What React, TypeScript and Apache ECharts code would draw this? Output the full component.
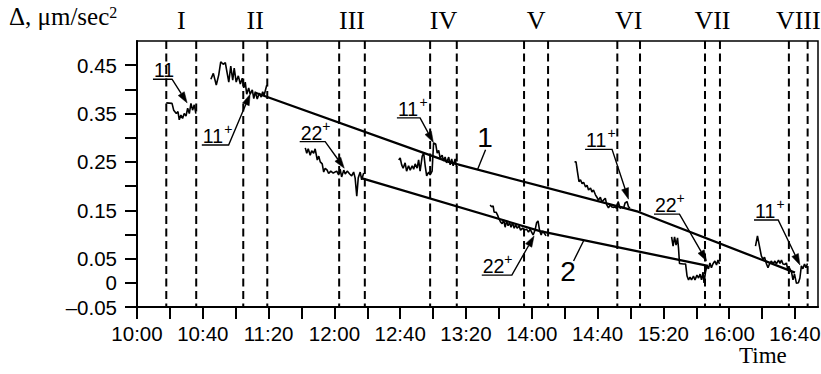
import React, { useEffect, useRef } from "react";
import * as echarts from "echarts";

const SANS = '"Liberation Sans", Arial, Helvetica, sans-serif';
const SERIF = '"Liberation Serif", "Times New Roman", Times, serif';

// time axis: minutes after 10:00
const X_MIN = 0;
const X_MAX = 414;
const Y_MIN = -0.05;
const Y_MAX = 0.5;

const xTickValues = [0, 20, 40, 60, 80, 100, 120, 140, 160, 180, 200, 220, 240, 260, 280, 300, 320, 340, 360, 380, 400];
const xLabelValues = [0, 40, 80, 120, 160, 200, 240, 280, 320, 360, 400];
const yTickValues = [-0.05, 0, 0.05, 0.1, 0.15, 0.2, 0.25, 0.3, 0.35, 0.4, 0.45];
const yLabelValues = [-0.05, 0, 0.05, 0.15, 0.25, 0.35, 0.45];

// measurement intervals (minutes after 10:00)
const intervalNames = ["I", "II", "III", "IV", "V", "VI", "VII", "VIII"];
const intervalStart = [17.8, 64.6, 122.9, 178.2, 235.3, 292.0, 345.3, 396.3];
const intervalEnd = [36.0, 79.2, 138.5, 194.4, 249.9, 305.8, 354.4, 407.7];

// measured series within each interval [minutes, value]
const seg1 = [[17.8, 0.372], [21.3, 0.371], [22.3, 0.357], [23.9, 0.35], [24.9, 0.354], [25.7, 0.337], [26.7, 0.347], [27.7, 0.34], [28.7, 0.35], [29.8, 0.345], [30.8, 0.361], [31.8, 0.35], [32.8, 0.371], [33.8, 0.357], [34.8, 0.368], [35.8, 0.35]];
const seg2 = [[44.9, 0.421], [46.4, 0.433], [48.2, 0.409], [49.7, 0.43], [50.9, 0.457], [52.4, 0.452], [53.7, 0.455], [54.9, 0.432], [55.8, 0.415], [57.0, 0.448], [58.2, 0.419], [59.1, 0.444], [60.3, 0.415], [61.6, 0.428], [62.8, 0.411], [64.0, 0.423], [64.9, 0.403], [65.8, 0.415], [66.7, 0.39], [67.9, 0.403], [68.8, 0.39], [70.1, 0.399], [71.0, 0.381], [71.9, 0.395], [73.1, 0.38], [74.3, 0.392], [75.5, 0.384], [76.4, 0.395], [77.3, 0.388], [78.9, 0.409]];
const seg3 = [[102.3, 0.279], [103.2, 0.268], [104.1, 0.277], [105.3, 0.264], [106.2, 0.273], [107.4, 0.268], [108.3, 0.277], [109.6, 0.254], [110.5, 0.262], [111.4, 0.25], [112.6, 0.246], [113.5, 0.229], [114.4, 0.237], [115.6, 0.233], [116.5, 0.226], [117.8, 0.231], [119.3, 0.227], [121.4, 0.231], [122.6, 0.223], [123.5, 0.235], [124.4, 0.219], [125.7, 0.233], [126.6, 0.225], [127.8, 0.231], [129.3, 0.225], [130.5, 0.221], [131.7, 0.229], [132.6, 0.217], [133.6, 0.179], [134.5, 0.217], [135.7, 0.229], [136.6, 0.213], [137.8, 0.227]];
const seg4 = [[159.1, 0.254], [160.0, 0.258], [160.9, 0.244], [161.8, 0.237], [163.0, 0.248], [163.9, 0.231], [165.1, 0.242], [166.1, 0.233], [167.3, 0.242], [168.2, 0.235], [169.1, 0.246], [170.3, 0.237], [171.2, 0.254], [172.1, 0.231], [173.4, 0.262], [174.3, 0.268], [175.2, 0.242], [176.1, 0.221], [177.3, 0.229], [178.2, 0.223], [179.4, 0.231], [180.3, 0.289], [181.6, 0.287], [182.5, 0.268], [183.4, 0.274], [184.3, 0.258], [185.5, 0.264], [186.4, 0.252], [187.3, 0.26], [188.2, 0.248], [189.5, 0.26], [190.4, 0.244], [191.3, 0.256], [192.2, 0.242], [193.4, 0.256], [194.3, 0.239]];
const seg5 = [[214.7, 0.161], [215.6, 0.157], [216.5, 0.159], [217.1, 0.146], [218.3, 0.146], [219.2, 0.14], [220.1, 0.132], [221.0, 0.126], [222.0, 0.122], [222.9, 0.13], [223.8, 0.115], [224.7, 0.128], [225.6, 0.118], [226.5, 0.124], [227.4, 0.115], [228.3, 0.124], [229.3, 0.113], [230.2, 0.12], [231.1, 0.113], [232.3, 0.117], [233.2, 0.109], [234.4, 0.113], [235.6, 0.109], [236.8, 0.111], [238.0, 0.105], [239.0, 0.111], [239.9, 0.105], [240.8, 0.099], [242.0, 0.109], [242.9, 0.124], [243.8, 0.128], [244.7, 0.109], [245.7, 0.099], [246.6, 0.107], [247.5, 0.103], [248.7, 0.097]];
const seg6 = [[266.0, 0.25], [266.9, 0.25], [267.8, 0.229], [268.7, 0.209], [269.6, 0.213], [270.6, 0.205], [271.5, 0.208], [272.7, 0.198], [273.6, 0.202], [274.5, 0.192], [275.7, 0.196], [276.6, 0.188], [277.5, 0.192], [278.7, 0.182], [279.6, 0.177], [280.5, 0.171], [281.7, 0.177], [282.6, 0.167], [283.6, 0.171], [284.7, 0.175], [285.6, 0.161], [286.6, 0.155], [287.7, 0.161], [288.7, 0.157], [289.5, 0.156], [290.7, 0.157], [291.6, 0.154], [292.5, 0.168], [293.7, 0.154], [294.6, 0.157], [295.8, 0.154], [296.7, 0.165], [297.9, 0.168], [298.8, 0.157], [299.7, 0.155]];
const seg7 = [[325.0, 0.095], [325.9, 0.076], [326.8, 0.095], [327.7, 0.078], [328.6, 0.093], [329.2, 0.072], [329.8, 0.04], [332.2, 0.039], [333.5, 0.039], [334.4, 0.014], [335.3, 0.006], [336.2, 0.012], [337.1, 0.006], [338.3, 0.014], [339.2, 0.006], [340.4, 0.016], [341.4, 0.01], [342.3, 0.018], [343.2, 0.006], [344.1, 0.022], [344.7, 0.0], [345.6, 0.022], [346.5, 0.035], [347.4, 0.029], [348.3, 0.041], [349.2, 0.031], [350.1, 0.039], [351.3, 0.045], [352.3, 0.037], [353.2, 0.047], [354.1, 0.039]];
const seg8 = [[376.0, 0.076], [377.2, 0.097], [378.4, 0.076], [379.6, 0.055], [380.5, 0.049], [381.5, 0.053], [382.7, 0.039], [383.6, 0.031], [384.5, 0.039], [385.7, 0.045], [386.6, 0.039], [387.8, 0.045], [388.7, 0.039], [390.0, 0.047], [390.9, 0.04], [391.8, 0.047], [392.7, 0.039], [393.9, 0.038], [394.8, 0.041], [395.7, 0.026], [396.6, 0.031], [397.9, 0.022], [398.8, 0.006], [399.7, 0.018], [400.9, -0.001], [402.1, 0.0], [403.0, 0.01], [403.9, 0.035], [404.8, 0.029], [405.8, 0.039], [406.7, 0.031], [407.6, 0.04]];
const segments = [seg1, seg2, seg3, seg4, seg5, seg6, seg7, seg8];

// fitted lines
const fit1 = [[72.0, 0.393], [190.4, 0.249], [304.6, 0.147], [400.0, 0.021]];
const fit2 = [[136.9, 0.216], [245.0, 0.107], [347.1, 0.035]];

// arrow annotations
const annLabel = ["11", "11", "22", "11", "22", "11", "22", "11"];
const annSup = ["", "+", "+", "+", "+", "+", "+", "+"];
const annLineStartT = [9.7, 39.4, 98.9, 158.0, 209.6, 272.4, 314.3, 375.1];
const annLineEndT = [21.3, 55.7, 114.4, 172.1, 227.9, 288.8, 329.8, 389.8];
const annLineV = [0.421, 0.285, 0.292, 0.341, 0.016, 0.276, 0.142, 0.13];
const annTipT = [30.5, 68.8, 126.0, 180.2, 241.4, 298.8, 346.3, 403.0];
const annTipV = [0.372, 0.39, 0.237, 0.29, 0.097, 0.173, 0.045, 0.037];

// fitted line labels with leader lines
const fitLabel = ["1", "2"];
const fitLabelT = [211.6, 262.1];
const fitLabelV = [0.301, 0.024];
const fitLeaderFromT = [207.1, 265.4];
const fitLeaderFromV = [0.235, 0.045];
const fitLeaderToT = [211.9, 271.5];
const fitLeaderToV = [0.275, 0.087];

const fmtTime = (m: number) => {
  const h = 10 + Math.floor(m / 60);
  const mm = Math.round(m % 60);
  return `${h}:${mm < 10 ? "0" + mm : mm}`;
};
const fmtY = (v: number) => {
  if (Math.abs(v) < 1e-9) return "0";
  if (v < 0) return "\u2013" + Math.abs(v).toFixed(2);
  return v.toFixed(2);
};

function textEl(x: number, y: number, text: string, size: number, family: string, align: string, vAlign: string) {
  return {
    type: "text",
    x,
    y,
    style: {
      text,
      fill: "#000",
      fontSize: size,
      fontFamily: family,
      align,
      verticalAlign: vAlign,
      textAlign: align,
      textVerticalAlign: vAlign,
    },
  };
}

export default function App() {
  const ref = useRef<HTMLDivElement>(null);
  useEffect(() => {
    if (!ref.current) return;
    const chart = echarts.init(ref.current, null, { renderer: "svg" });
    const series: any[] = [];

    series.push({
      type: "custom",
      clip: false,
      silent: true,
      z: 1,
      data: intervalStart.map((s, i) => [s, intervalEnd[i]]),
      renderItem: (params: any, api: any) => {
        const i = params.dataIndex;
        const s = intervalStart[i];
        const e = intervalEnd[i];
        const top = api.coord([s, Y_MAX])[1];
        const bot = api.coord([s, Y_MIN])[1];
        const xs = api.coord([s, 0])[0];
        const xe = api.coord([e, 0])[0];
        const dash = { stroke: "#000", lineWidth: 2, lineDash: [8, 4.5], fill: null };
        return {
          type: "group",
          children: [
            { type: "line", shape: { x1: xs, y1: top, x2: xs, y2: bot }, style: dash },
            { type: "line", shape: { x1: xe, y1: top, x2: xe, y2: bot }, style: dash },
            textEl((xs + xe) / 2, top - 21, intervalNames[i], 26, SERIF, "center", "middle"),
          ],
        };
      },
    });

    segments.forEach((seg) => {
      series.push({
        type: "line",
        data: seg,
        symbol: "none",
        silent: true,
        z: 3,
        lineStyle: { color: "#000", width: 1.6 },
      });
    });

    [fit1, fit2].forEach((f) => {
      series.push({
        type: "line",
        data: f,
        symbol: "none",
        silent: true,
        z: 3,
        lineStyle: { color: "#000", width: 2.3 },
      });
    });

    series.push({
      type: "custom",
      clip: false,
      silent: true,
      z: 4,
      data: annTipT.map((t, i) => [t, annTipV[i]]),
      renderItem: (params: any, api: any) => {
        const i = params.dataIndex;
        const p0 = api.coord([annLineStartT[i], annLineV[i]]);
        const p1 = api.coord([annLineEndT[i], annLineV[i]]);
        const tip = api.coord([annTipT[i], annTipV[i]]);
        const dx = tip[0] - p1[0];
        const dy = tip[1] - p1[1];
        const len = Math.hypot(dx, dy) || 1;
        const ux = dx / len;
        const uy = dy / len;
        const L = 11;
        const W = 3.6;
        const bx = tip[0] - ux * L;
        const by = tip[1] - uy * L;
        const children: any[] = [
          {
            type: "polyline",
            shape: { points: [p0, p1, [bx, by]] },
            style: { stroke: "#000", lineWidth: 1.4, fill: null },
          },
          {
            type: "polygon",
            shape: { points: [tip, [bx - uy * W, by + ux * W], [bx + uy * W, by - ux * W]] },
            style: { fill: "#000", stroke: "#000", lineWidth: 0.5 },
          },
          textEl(p0[0] + 1, p0[1] + 1, annLabel[i], 19.5, SANS, "left", "bottom"),
        ];
        if (annSup[i]) {
          children.push(textEl(p0[0] + 22.5, p0[1] - 9, annSup[i], 14, SANS, "left", "bottom"));
        }
        return { type: "group", children };
      },
    });

    series.push({
      type: "custom",
      clip: false,
      silent: true,
      z: 4,
      data: fitLabelT.map((t, i) => [t, fitLabelV[i]]),
      renderItem: (params: any, api: any) => {
        const i = params.dataIndex;
        const c = api.coord([fitLabelT[i], fitLabelV[i]]);
        const a = api.coord([fitLeaderFromT[i], fitLeaderFromV[i]]);
        const b = api.coord([fitLeaderToT[i], fitLeaderToV[i]]);
        return {
          type: "group",
          children: [
            { type: "line", shape: { x1: a[0], y1: a[1], x2: b[0], y2: b[1] }, style: { stroke: "#000", lineWidth: 1.4 } },
            textEl(c[0], c[1], fitLabel[i], 28, SANS, "center", "middle"),
          ],
        };
      },
    });

    chart.setOption({
      animation: false,
      backgroundColor: "#fff",
      grid: {
        left: 137,
        top: 41,
        right: 3,
        bottom: 67,
        show: true,
        borderColor: "#000",
        borderWidth: 1.5,
        backgroundColor: "transparent",
        containLabel: false,
        outerBoundsMode: "none",
      },
      xAxis: {
        type: "value",
        min: X_MIN,
        max: X_MAX,
        splitLine: { show: false },
        axisLine: { onZero: false, lineStyle: { color: "#000", width: 2 } },
        axisTick: { customValues: xTickValues, length: 12, lineStyle: { color: "#000", width: 2 } },
        axisLabel: {
          customValues: xLabelValues,
          formatter: (v: number) => fmtTime(v),
          color: "#000",
          fontSize: 20.5,
          fontFamily: SANS,
          margin: 16,
        },
      },
      yAxis: {
        type: "value",
        min: Y_MIN,
        max: Y_MAX,
        splitLine: { show: false },
        axisLine: { lineStyle: { color: "#000", width: 2 } },
        axisTick: { customValues: yTickValues, length: 12, lineStyle: { color: "#000", width: 2 } },
        axisLabel: {
          customValues: yLabelValues,
          formatter: (v: number) => fmtY(v),
          color: "#000",
          fontSize: 20.5,
          fontFamily: SANS,
          margin: 20,
        },
      },
      graphic: [
        {
          type: "text",
          left: 9,
          top: 4,
          style: {
            text: "{a|\u0394, \u03bcm/sec}{s|2}",
            fill: "#000",
            rich: {
              a: { fontSize: 25, fontFamily: SERIF, fill: "#000", verticalAlign: "bottom" },
              s: { fontSize: 16, fontFamily: SERIF, fill: "#000", verticalAlign: "top" },
            },
          },
        },
        {
          type: "text",
          left: 739,
          top: 344,
          style: { text: "Time", fill: "#000", fontSize: 23, fontFamily: SERIF },
        },
      ],
      series,
    });
    return () => chart.dispose();
  }, []);
  return <div ref={ref} style={{ position: "absolute", left: 0, top: 0, width: 821, height: 374, background: "#fff" }} />;
}
